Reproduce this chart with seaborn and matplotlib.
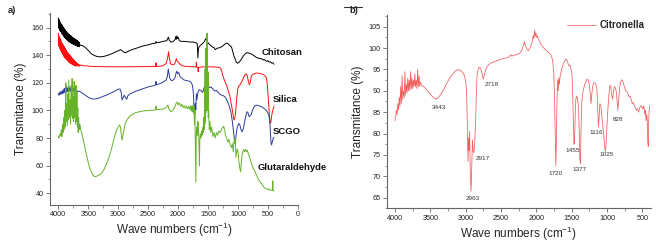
import numpy as np
import pandas as pd
import matplotlib.pyplot as plt
import matplotlib.ticker as mticker
from matplotlib.lines import Line2D
import seaborn as sns

# FTIR spectra: (wavenumber cm-1, transmittance %)
chitosan = [
    (4000, 167), (3995, 160), (3990, 166), (3985, 159), (3980, 165), (3975, 158), (3970, 164), (3965, 157.5),
    (3960, 163), (3955, 157), (3950, 162.5), (3945, 156), (3940, 162), (3935, 155.5), (3930, 161), (3925, 155),
    (3920, 160.5), (3915, 154), (3910, 160), (3905, 153.5), (3900, 159), (3895, 153), (3890, 158.5),
    (3885, 152.5), (3880, 158), (3875, 152), (3870, 157), (3865, 151.5), (3860, 157), (3855, 151),
    (3850, 156), (3845, 150.5), (3840, 156), (3835, 150.5), (3830, 155), (3825, 150), (3820, 155),
    (3815, 149.5), (3810, 154.5), (3805, 149.5), (3800, 154), (3795, 149), (3790, 154), (3785, 149),
    (3780, 153.5), (3775, 148.5), (3770, 153), (3765, 148.5), (3760, 153), (3755, 148), (3750, 152.5),
    (3745, 148), (3740, 152), (3735, 147.5), (3730, 152), (3725, 147.5), (3720, 151.5), (3715, 147),
    (3710, 151.5), (3705, 147), (3700, 151), (3695, 147), (3690, 150.5), (3685, 146.5), (3680, 150.5),
    (3675, 146.5), (3670, 150), (3665, 146.5), (3660, 149.5), (3655, 146), (3650, 149), (3640, 147.5),
    (3620, 147), (3600, 147), (3560, 146),
    (3500, 143.5), (3450, 141), (3400, 139.8), (3350, 139), (3300, 138.8), (3250, 139), (3200, 139.6),
    (3150, 140.3), (3100, 141.2), (3050, 142.2), (3000, 143.2), (2960, 144), (2930, 143), (2900, 142),
    (2880, 141.8), (2850, 142.5), (2800, 143.5), (2750, 144.3), (2700, 145), (2600, 146.5), (2500, 147.5),
    (2420, 148.5), (2380, 148.6), (2370, 150), (2360, 149), (2300, 149.4), (2250, 150), (2190, 150.5),
    (2170, 152.5), (2160, 153), (2150, 151), (2120, 149.5), (2080, 150), (2050, 151.5), (2040, 153.5),
    (2030, 151.5), (2020, 154), (2010, 152), (2000, 153), (1980, 150.5), (1950, 150), (1900, 150),
    (1850, 149.8), (1800, 149.5), (1750, 149.5), (1700, 149), (1680, 148), (1670, 138), (1660, 145),
    (1650, 146), (1620, 147.5), (1600, 148), (1560, 150), (1540, 152), (1520, 150), (1500, 149),
    (1470, 147.5), (1430, 146), (1400, 145.5), (1380, 144), (1350, 145), (1300, 145.5), (1260, 146.5),
    (1220, 148), (1190, 148.7), (1170, 148.5), (1140, 147), (1110, 146), (1090, 143), (1070, 139.5),
    (1050, 137.5), (1030, 135), (1010, 134.2), (990, 134.5), (960, 136), (940, 137.5), (910, 139.5),
    (880, 141), (850, 141.8), (820, 141.5), (790, 141), (760, 140.5), (730, 139.5), (700, 138.5),
    (670, 138), (640, 137.5), (610, 137.5), (580, 136.5), (560, 136.8), (540, 136), (520, 135.5),
    (500, 136), (480, 135), (460, 135.3), (440, 134.2), (420, 134.5), (400, 133.5),
]

silica = [
    (4000, 156), (3995, 147), (3990, 154), (3985, 146), (3980, 153), (3975, 145), (3970, 152), (3965, 144),
    (3960, 151), (3955, 143), (3950, 150), (3945, 142), (3940, 149), (3935, 141.5), (3930, 148),
    (3925, 140.5), (3920, 147.5), (3915, 140), (3910, 146.5), (3905, 139), (3900, 146), (3895, 138.5),
    (3890, 145), (3885, 138), (3880, 144.5), (3875, 137.5), (3870, 143.5), (3865, 137), (3860, 143),
    (3855, 136.5), (3850, 142), (3845, 136), (3840, 141.5), (3835, 135.5), (3830, 141), (3825, 135),
    (3820, 140.5), (3815, 134.5), (3810, 140), (3805, 134.5), (3800, 139.5), (3795, 134), (3790, 139),
    (3785, 134), (3780, 138.5), (3775, 133.5), (3770, 138), (3765, 133.5), (3760, 137.5), (3755, 133),
    (3750, 137), (3745, 133), (3740, 136.5), (3735, 132.5), (3730, 136), (3725, 132.5), (3720, 135.5),
    (3715, 132.5), (3710, 135), (3705, 132), (3700, 134.5), (3690, 132.5), (3680, 134), (3670, 132),
    (3660, 133.5), (3650, 132), (3640, 133), (3620, 132.5), (3600, 132.8),
    (3580, 132.2), (3550, 132.4), (3500, 132), (3400, 131.8), (3200, 131.6), (3000, 131.6),
    (2800, 131.6), (2600, 131.7), (2400, 131.8), (2375, 132), (2370, 134.5), (2365, 131.8), (2300, 132),
    (2250, 132.5), (2200, 134), (2175, 138), (2160, 142.5), (2150, 139), (2130, 134), (2100, 133),
    (2060, 133.5), (2040, 136), (2030, 137.5), (2020, 136), (2000, 135), (1970, 133.5), (1940, 132.5),
    (1900, 132), (1800, 131.7), (1700, 131.5), (1695, 135), (1690, 131.5), (1670, 131), (1665, 128),
    (1660, 131.2), (1600, 131.5), (1500, 131.6), (1400, 131.5), (1320, 131.2), (1290, 130.5), (1270, 128),
    (1250, 124.5), (1220, 121), (1190, 118), (1170, 115), (1140, 111), (1110, 104), (1090, 99),
    (1075, 94.5), (1065, 93), (1050, 95), (1035, 102), (1020, 110), (1005, 115.5), (990, 117.5),
    (960, 119), (930, 121.5), (900, 124.5), (880, 126), (860, 126.3), (845, 125), (825, 120.5),
    (810, 118.5), (795, 120), (780, 124.5), (760, 126), (730, 126.5), (700, 127), (670, 127),
    (640, 126.8), (610, 126.5), (580, 126), (550, 125), (525, 123.5), (510, 118), (495, 108),
    (480, 99), (470, 92.5), (460, 90.5), (450, 92), (440, 96), (420, 100), (400, 103),
]

scgo = [
    (4000, 112), (3990, 111), (3980, 113), (3970, 111.5), (3960, 113.5), (3950, 112), (3940, 114),
    (3930, 112), (3920, 115), (3910, 112.5), (3900, 116), (3890, 113), (3880, 116.5), (3870, 113),
    (3860, 117.5), (3850, 113.5), (3840, 116), (3830, 113.5), (3820, 117), (3810, 114), (3800, 116.5),
    (3790, 114), (3780, 117), (3770, 114), (3760, 116), (3750, 114), (3740, 116.5), (3730, 113.5),
    (3720, 116), (3710, 113.5), (3700, 115), (3680, 113.5), (3650, 114), (3600, 112.5), (3550, 111),
    (3500, 109.5), (3450, 108.5), (3400, 108.2), (3350, 108.5), (3300, 109.3), (3250, 110.2),
    (3200, 111), (3150, 112), (3100, 113), (3050, 114.2), (3000, 115.3), (2970, 115.5), (2950, 113),
    (2935, 107.5), (2920, 109), (2900, 111), (2880, 109.5), (2860, 108), (2840, 110.5), (2800, 112),
    (2750, 113), (2700, 114), (2600, 115.5), (2500, 117), (2400, 118), (2375, 118.5), (2370, 121),
    (2365, 118.5), (2300, 119.5), (2250, 120.5), (2200, 122), (2180, 124.5), (2165, 130), (2155, 127.5),
    (2140, 123.5), (2110, 121.5), (2080, 122), (2050, 124), (2035, 127), (2020, 128.5), (2010, 126.5),
    (1990, 127.5), (1970, 124.5), (1940, 123.5), (1900, 122), (1850, 121.5), (1800, 121), (1780, 120),
    (1760, 118), (1745, 112), (1735, 103), (1725, 98), (1715, 105), (1705, 100.5), (1695, 112),
    (1685, 108), (1670, 113), (1650, 115), (1620, 114.5), (1590, 113), (1570, 116), (1550, 119),
    (1530, 125), (1515, 119), (1500, 118), (1480, 116.5), (1450, 117), (1420, 115.5), (1390, 114),
    (1360, 114.5), (1330, 113), (1300, 111.5), (1270, 111), (1240, 110.5), (1210, 109.5), (1180, 107),
    (1150, 103.5), (1120, 99), (1095, 92), (1075, 84), (1060, 78.5), (1050, 77), (1040, 79), (1025, 85),
    (1010, 88), (990, 90.5), (970, 89.5), (950, 86), (930, 84.5), (910, 87), (890, 92), (870, 96),
    (850, 99), (835, 98.5), (815, 95.5), (800, 96), (780, 97), (760, 100), (740, 102), (715, 103.5),
    (690, 103.8), (660, 103.5), (630, 103), (600, 102.5), (570, 101.5), (540, 100.5), (520, 99.5),
    (500, 98), (485, 96.5), (470, 92), (460, 84), (450, 76.5), (440, 75), (430, 77), (415, 79.5),
    (400, 80.5),
]

glutaraldehyde = [
    (4000, 80), (3990, 81.5), (3980, 80.5), (3970, 83), (3960, 82), (3950, 86), (3940, 81), (3930, 90),
    (3920, 84), (3910, 95), (3900, 86), (3890, 100), (3885, 88), (3875, 120), (3870, 92), (3860, 105),
    (3850, 89), (3840, 112), (3835, 93), (3825, 122), (3815, 95), (3805, 108), (3795, 90), (3785, 118),
    (3778, 96), (3770, 123), (3762, 94), (3752, 110), (3745, 92), (3735, 121), (3728, 95), (3720, 108),
    (3712, 90), (3705, 118), (3698, 92), (3690, 113), (3682, 88), (3675, 102), (3668, 84), (3660, 95),
    (3650, 86), (3640, 90), (3625, 86), (3600, 82), (3570, 76), (3540, 70), (3510, 64), (3480, 59),
    (3450, 55.5), (3420, 53), (3390, 52), (3360, 52.3), (3330, 53), (3300, 53.5), (3270, 55), (3240, 57),
    (3210, 60), (3180, 63), (3150, 66.5), (3120, 71), (3090, 76), (3060, 81), (3030, 85.5), (3000, 88),
    (2980, 89.5), (2965, 88.5), (2950, 83), (2935, 78.5), (2920, 82), (2905, 86), (2885, 90),
    (2860, 92.5), (2830, 94.5), (2800, 96), (2750, 97.5), (2700, 98.5), (2600, 99.5), (2500, 100),
    (2400, 100.2), (2375, 100.5), (2370, 103), (2360, 100.5), (2300, 100.8), (2250, 101), (2200, 102),
    (2170, 104), (2160, 101.5), (2120, 99), (2090, 100), (2060, 102), (2040, 104.5), (2020, 106),
    (2000, 104), (1980, 105.5), (1960, 103), (1940, 104.5), (1920, 102), (1900, 103.5), (1880, 101.5),
    (1860, 103), (1840, 101), (1820, 103), (1800, 100.5), (1790, 103.5), (1780, 99.5), (1770, 103),
    (1760, 99), (1750, 104), (1740, 98), (1735, 103), (1728, 90), (1720, 100), (1712, 70), (1705, 48),
    (1698, 80), (1690, 88), (1680, 82), (1670, 92), (1660, 86), (1650, 72), (1645, 60), (1638, 78),
    (1630, 83), (1620, 80), (1610, 85), (1600, 82), (1590, 88), (1580, 84), (1570, 95), (1562, 86),
    (1558, 118), (1554, 90), (1550, 130), (1546, 92), (1542, 145), (1538, 98), (1534, 138), (1530, 100),
    (1526, 152), (1522, 104), (1518, 156), (1514, 108), (1510, 142), (1506, 100), (1502, 128),
    (1498, 95), (1490, 100), (1480, 86), (1470, 92), (1455, 84), (1440, 88), (1420, 81), (1400, 84),
    (1380, 80), (1360, 84), (1340, 82), (1320, 85), (1300, 84), (1280, 86), (1260, 87.5), (1240, 88.5),
    (1225, 86), (1210, 82), (1190, 80), (1170, 77), (1150, 79), (1130, 75), (1110, 73), (1095, 76),
    (1080, 70), (1065, 78), (1055, 76), (1045, 80), (1035, 66), (1025, 69), (1015, 72), (1000, 70),
    (985, 63), (970, 58), (958, 55.5), (948, 60), (935, 67), (920, 70), (905, 71.5), (890, 70),
    (875, 72), (860, 70), (845, 71), (830, 69), (815, 67), (800, 65), (780, 62), (760, 59.5),
    (740, 57.5), (720, 56), (700, 54), (680, 52), (660, 50), (640, 48.5), (620, 47.5), (600, 46.5),
    (580, 45), (560, 44), (540, 43.5), (520, 43), (500, 42.5), (480, 43), (460, 42), (440, 42.5),
    (425, 42), (420, 49), (415, 42.5), (400, 41.5),
]

citronella = [
    (4000, 83), (3990, 84), (3980, 85.5), (3970, 84.5), (3960, 87), (3950, 85.5), (3940, 88.5),
    (3930, 86.5), (3920, 91), (3910, 87), (3900, 93.5), (3890, 88), (3880, 90), (3870, 88.5),
    (3860, 94.5), (3850, 89), (3840, 91.5), (3830, 89.5), (3820, 93), (3810, 90), (3800, 92.5),
    (3790, 90), (3780, 94.5), (3770, 90.5), (3760, 93), (3750, 90.5), (3740, 92.5), (3730, 91),
    (3720, 94), (3710, 91), (3700, 92.5), (3690, 90.5), (3680, 95), (3670, 91), (3660, 93.5),
    (3650, 91), (3640, 92), (3620, 91.2), (3600, 91), (3570, 90.6), (3540, 90), (3510, 89.4),
    (3480, 88.8), (3450, 88.3), (3420, 88.1), (3390, 88.4), (3360, 89), (3330, 89.8), (3300, 90.7),
    (3270, 91.7), (3240, 92.6), (3210, 93.4), (3180, 94), (3150, 94.6), (3120, 94.9), (3090, 94.9),
    (3060, 94.6), (3030, 94), (3010, 93), (2995, 91.5), (2985, 88), (2975, 80), (2968, 73.5),
    (2960, 79), (2952, 76), (2945, 80.5), (2935, 70), (2925, 66.5), (2915, 72), (2905, 78.5),
    (2895, 76), (2885, 75.5), (2875, 77), (2860, 83), (2850, 89), (2840, 93.5), (2825, 95),
    (2810, 95.5), (2795, 95.3), (2780, 94.8), (2765, 93.8), (2752, 92.7), (2740, 93.5), (2720, 94.8),
    (2700, 95.6), (2670, 96.2), (2630, 96.6), (2580, 96.9), (2530, 97.2), (2480, 97.5), (2430, 97.7),
    (2400, 97.8), (2380, 98.1), (2360, 98.4), (2345, 98.1), (2325, 98.3), (2300, 98.4), (2270, 98.5),
    (2240, 98.7), (2220, 99.2), (2200, 99.8), (2185, 100.6), (2170, 101.5), (2160, 100.8), (2145, 100.2),
    (2130, 99.6), (2115, 99.4), (2100, 99.8), (2080, 100.4), (2060, 101.5), (2045, 103), (2035, 102.2),
    (2025, 104.2), (2015, 102.8), (2005, 103.5), (1995, 102.4), (1985, 102.8), (1970, 102),
    (1955, 101.5), (1940, 101), (1920, 100.5), (1900, 100.1), (1880, 99.7), (1860, 99.4),
    (1840, 99.1), (1820, 98.8), (1800, 98.5), (1785, 98), (1770, 97), (1755, 94), (1745, 89),
    (1735, 81), (1726, 72.5), (1718, 78), (1710, 87), (1700, 92.5), (1692, 90), (1684, 93),
    (1675, 91.5), (1665, 93.5), (1655, 94), (1645, 95), (1630, 95.8), (1615, 96.4), (1600, 96.9),
    (1585, 97.4), (1570, 97.2), (1555, 96.5), (1540, 95.8), (1525, 96), (1510, 95), (1498, 94),
    (1488, 90), (1478, 83), (1468, 77.5), (1460, 78.5), (1452, 84), (1443, 88), (1430, 88.7),
    (1418, 88.2), (1405, 86), (1395, 81), (1385, 74), (1377, 73), (1370, 80), (1360, 87), (1345, 89.5),
    (1330, 90.7), (1315, 91.5), (1300, 92.2), (1285, 92.7), (1270, 92.6), (1255, 91.8), (1240, 89.5),
    (1228, 87), (1218, 89), (1205, 91), (1190, 91.8), (1175, 91.9), (1160, 91.5), (1145, 90.5),
    (1133, 86), (1122, 81.5), (1113, 84), (1103, 87), (1090, 86.5), (1075, 84), (1060, 81.5),
    (1045, 79), (1035, 77), (1025, 75.8), (1015, 77.5), (1005, 81), (990, 85.5), (975, 89),
    (960, 91.3), (948, 91), (935, 89), (922, 88), (910, 90), (895, 91), (880, 90.5), (868, 89.5),
    (858, 87.5), (848, 85.5), (838, 87.5), (825, 90.5), (810, 92), (795, 92.6), (780, 92.3),
    (765, 91.5), (750, 90.6), (735, 90), (720, 89.8), (705, 89.3), (690, 88.6), (675, 88.8), (660, 88),
    (645, 87), (630, 87.3), (615, 86.5), (600, 86), (585, 85.5), (570, 85.8), (555, 85), (540, 86),
    (525, 86.5), (510, 86.3), (495, 85.7), (480, 86.5), (468, 84.5), (458, 85.5), (448, 83), (440, 84.5),
    (432, 83), (425, 78), (418, 77), (412, 83), (405, 85.5), (398, 86.5),
]

# peak labels in panel b: (text, x, y)
peak_labels = [
    ("3443", 3374, 86.1), ("2963", 2903, 64.7), ("2917", 2753, 74.2), ("2718", 2634, 91.5),
    ("1720", 1726, 70.7), ("1455", 1490, 76.0), ("1377", 1387, 71.6), ("1116", 1151, 80.3),
    ("1025", 1010, 75.0), ("828", 840, 83.4),
]

# sample name labels in panel a
sample_labels = [
    ("Chitosan", 605, 141.7), ("Silica", 422, 107.6), ("SCGO", 422, 84.4), ("Glutaraldehyde", 672, 58.4),
]
colors = {"Chitosan": "#000000", "Silica": "#ff1010", "SCGO": "#2e3c9c", "Glutaraldehyde": "#66b329"}


def to_frame(name, pts):
    df = pd.DataFrame(pts, columns=["wn", "T"])
    df["sample"] = name
    return df


df_a = pd.concat([to_frame("Chitosan", chitosan), to_frame("Silica", silica),
                  to_frame("SCGO", scgo), to_frame("Glutaraldehyde", glutaraldehyde)])
df_b = to_frame("Citronella", citronella)

sns.set_style("ticks")
plt.rcParams["font.family"] = ["Liberation Sans", "DejaVu Sans"]
plt.rcParams["mathtext.fontset"] = "custom"
plt.rcParams["mathtext.rm"] = "Liberation Sans"

fig = plt.figure(figsize=(6.56, 2.44), dpi=100)
ax1 = fig.add_axes([0.0762, 0.160, 0.378, 0.787])
ax2 = fig.add_axes([0.590, 0.146, 0.402, 0.792])

sns.lineplot(data=df_a, x="wn", y="T", hue="sample", palette=colors, estimator=None,
             sort=False, units="sample", lw=0.7, legend=False, ax=ax1)
sns.lineplot(data=df_b, x="wn", y="T", color="#f25a5a", estimator=None, sort=False,
             lw=0.55, label="Citronella", ax=ax2)

ax1.set_xlim(4139, 0)
ax1.set_ylim(31.5, 170.6)
ax1.xaxis.set_major_locator(mticker.MultipleLocator(500))
ax1.xaxis.set_minor_locator(mticker.MultipleLocator(250))
ax1.yaxis.set_major_locator(mticker.MultipleLocator(20))
ax1.yaxis.set_minor_locator(mticker.MultipleLocator(10))

ax2.set_xlim(4113, 383)
ax2.set_ylim(62.5, 107.7)
ax2.xaxis.set_major_locator(mticker.MultipleLocator(500))
ax2.xaxis.set_minor_locator(mticker.MultipleLocator(250))
ax2.yaxis.set_major_locator(mticker.MultipleLocator(5))
ax2.yaxis.set_minor_locator(mticker.MultipleLocator(2.5))

for ax in (ax1, ax2):
    sns.despine(ax=ax)
    for s in ("left", "bottom"):
        ax.spines[s].set_color("#666666")
        ax.spines[s].set_linewidth(0.8)
    ax.tick_params(which="major", length=3, width=0.6, color="#666666", labelsize=5.2,
                   labelcolor="#222222", pad=1.5)
    ax.tick_params(which="minor", length=1.8, width=0.5, color="#666666")
    ax.set_xlabel("Wave numbers (cm$^{-1}$)", fontsize=8.5, labelpad=2)
    ax.set_ylabel("Transmitance (%)", fontsize=8.5, labelpad=3)

for name, x, y in sample_labels:
    ax1.text(x, y, name, fontsize=6.8, fontweight="bold", color="#111111",
             va="center", ha="left", clip_on=False)

for txt, x, y in peak_labels:
    ax2.text(x, y, txt, fontsize=4.6, color="#333333", ha="center", va="center")

ax2.legend(loc="upper right", bbox_to_anchor=(1.01, 1.02), frameon=False,
           handlelength=3.0, handletextpad=0.4, prop={"size": 7, "weight": "bold"})

fig.text(0.012, 0.945, "a)", fontsize=6.8, fontweight="bold")
fig.text(0.533, 0.945, "b)", fontsize=6.8, fontweight="bold")
fig.add_artist(Line2D([0.524, 0.552], [0.973, 0.973], color="#333333", lw=0.8))

fig.savefig("out.png", dpi=100)
